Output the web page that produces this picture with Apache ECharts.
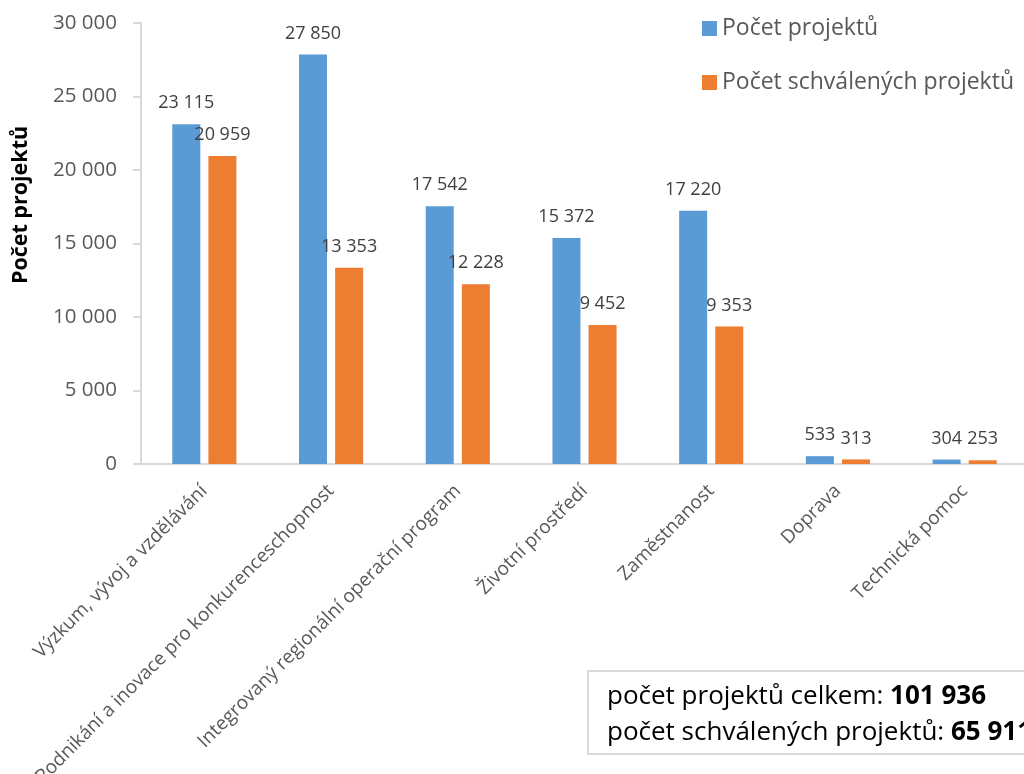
<!DOCTYPE html>
<html>
<head>
<meta charset="utf-8">
<script src="https://cdn.jsdelivr.net/npm/echarts@6/dist/echarts.min.js"></script>
<style>
  html, body { margin: 0; padding: 0; background: #fff; }
  #chart { width: 1024px; height: 774px; }
</style>
</head>
<body>
<div id="chart"></div>
<script>
const categories = [
  'Výzkum, vývoj a vzdělávání',
  'Podnikání a inovace pro konkurenceschopnost',
  'Integrovaný regionální operační program',
  'Životní prostředí',
  'Zaměstnanost',
  'Doprava',
  'Technická pomoc'
];
const projectCounts = [23115, 27850, 17542, 15372, 17220, 533, 304];
const approvedCounts = [20959, 13353, 12228, 9452, 9353, 313, 253];
const seriesNames = ['Počet projektů', 'Počet schválených projektů'];
const totalProjects = '101 936';
const totalApproved = '65 911';

const font = '"Open Sans", sans-serif';
const fmt = v => String(v).replace(/\B(?=(\d{3})+(?!\d))/g, ' ');

const chart = echarts.init(document.getElementById('chart'));
const labelStyle = {
  show: true,
  position: 'top',
  distance: 12,
  color: '#404040',
  fontSize: 18,
  fontFamily: font,
  formatter: p => fmt(p.value)
};

chart.setOption({
  animation: false,
  textStyle: { fontFamily: font },
  grid: { left: 141, top: 23, width: 887, bottom: 310, containLabel: false, outerBoundsMode: 'none' },
  legend: {
    orient: 'vertical',
    left: 697,
    top: 12,
    itemWidth: 15,
    itemHeight: 15,
    itemGap: 31,
    icon: 'rect',
    textStyle: { fontSize: 23, color: '#595959', fontFamily: font },
    data: seriesNames
  },
  xAxis: {
    type: 'category',
    data: categories,
    axisLine: { lineStyle: { color: '#d9d9d9', width: 2 } },
    axisTick: { show: false },
    axisLabel: {
      rotate: 45,
      interval: 0,
      margin: 24,
      fontSize: 19,
      color: '#595959',
      fontFamily: font
    }
  },
  yAxis: {
    type: 'value',
    min: 0,
    max: 30000,
    interval: 5000,
    axisLine: { show: true, lineStyle: { color: '#d9d9d9', width: 2 } },
    axisTick: { show: true, length: 8, lineStyle: { color: '#d9d9d9', width: 2 } },
    splitLine: { show: false },
    axisLabel: {
      margin: 24,
      fontSize: 20.5,
      color: '#595959',
      fontFamily: font,
      formatter: v => fmt(v)
    }
  },
  series: [
    {
      name: seriesNames[0],
      type: 'bar',
      data: projectCounts,
      barWidth: 28,
      barGap: '29%',
      itemStyle: { color: '#5b9bd5' },
      label: labelStyle
    },
    {
      name: seriesNames[1],
      type: 'bar',
      data: approvedCounts,
      barWidth: 28,
      barGap: '29%',
      itemStyle: { color: '#ed7d31' },
      label: labelStyle
    }
  ],
  graphic: [
    {
      type: 'text',
      x: 21,
      y: 205,
      rotation: Math.PI / 2,
      style: {
        text: 'Počet projektů',
        align: 'center',
        verticalAlign: 'middle',
        font: 'bold 21.5px "Open Sans", sans-serif',
        fill: '#000'
      }
    },
    {
      type: 'rect',
      shape: { x: 588, y: 671, width: 460, height: 83 },
      style: { fill: '#fff', stroke: '#d9d9d9', lineWidth: 2 }
    },
    {
      type: 'text',
      x: 607,
      y: 697,
      style: {
        text: 'počet projektů celkem: {b|' + totalProjects + '}',
        verticalAlign: 'middle',
        font: '26px "Open Sans", sans-serif',
        fill: '#000',
        rich: { b: { fontWeight: 'bold', fontSize: 26, fontFamily: font, fill: '#000' } }
      }
    },
    {
      type: 'text',
      x: 607,
      y: 733,
      style: {
        text: 'počet schválených projektů: {b|' + totalApproved + '}',
        verticalAlign: 'middle',
        font: '26px "Open Sans", sans-serif',
        fill: '#000',
        rich: { b: { fontWeight: 'bold', fontSize: 26, fontFamily: font, fill: '#000' } }
      }
    }
  ]
});
</script>
</body>
</html>
